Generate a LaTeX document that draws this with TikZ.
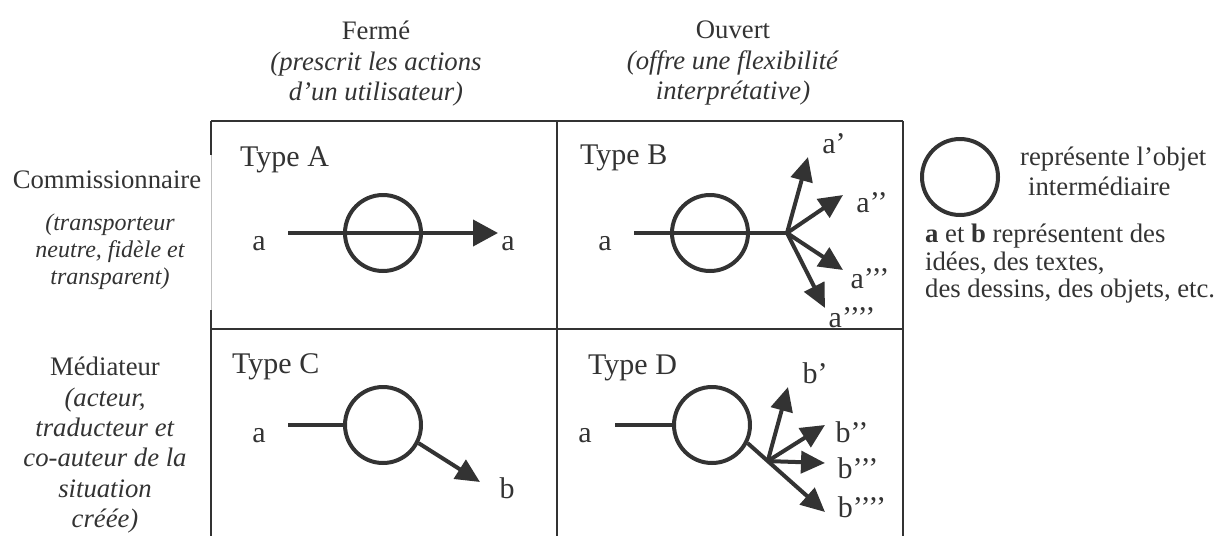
\documentclass[tikz,border=0pt]{standalone}
\usepackage{fontspec}
\setmainfont{Liberation Serif}
\usetikzlibrary{arrows.meta, calc}
\definecolor{ink}{HTML}{333333}

\tikzset{
  txt/.style={inner sep=0pt, text=ink, font=\fontsize{26.7}{30.4}\selectfont},
  lbl/.style={inner sep=0pt, text=ink, font=\fontsize{30}{34}\selectfont},
  gridline/.style={draw=ink, line width=2.5pt},
  io/.style={circle, draw=ink, line width=4pt, minimum size=76pt, inner sep=0pt},
  flow/.style={draw=ink, line width=4pt},
  arr/.style={flow, -{Triangle[length=24pt, width=22pt]}},
}

\begin{document}
\begin{tikzpicture}[x=1pt, y=-1pt]
  \useasboundingbox (0,0) rectangle (1216,536);

  % column heads
  \node[txt, anchor=north, align=center] (closed) at (376,21)
    {Fermé\\\textit{(prescrit les actions}\\\textit{d’un utilisateur)}};
  \node[txt, anchor=north, align=center] (open) at (733,21)
    {Ouvert\\\textit{(offre une flexibilité}\\\textit{interprétative)}};

  % row heads
  \node[txt, anchor=base] (carrier) at (107,188) {Commissionnaire};
  \node[txt, font=\itshape\fontsize{24}{27}\selectfont, anchor=north, align=center] (carrier note) at (110,214)
    {(transporteur\\neutre, fidèle et\\transparent)};
  \node[txt, anchor=north, align=center] (mediator) at (105,357)
    {Médiateur\\\textit{(acteur,}\\\textit{traducteur et}\\\textit{co-auteur de la}\\\textit{situation}\\\textit{créée)}};

  % grid
  \draw[gridline] (211,121) -- (903,121);
  \draw[gridline] (211,329) -- (903,329);
  \draw[gridline] (557,121) -- (557,536);
  \draw[gridline] (903,121) -- (903,536);
  \draw[gridline] (211,121) -- (211,155);
  \draw[gridline] (211,310) -- (211,536);
  \draw[draw=black!25, line width=1pt] (211,155) -- (211,310);

  % Type A
  \node[lbl, anchor=base west] (typeA) at (240,166) {Type A};
  \node[io] (cA) at (383,233) {};
  \coordinate (sA) at (288,233);
  \coordinate (tA) at (498,233);
  \draw[flow, -{Triangle[length=25pt, width=26pt]}] (sA) -- (tA);
  \node[lbl, anchor=base] (inA) at (259,250) {a};
  \node[lbl, anchor=base] (outA) at (508,250) {a};

  % Type B
  \node[lbl, anchor=base west] (typeB) at (580,164) {Type B};
  \node[io] (cB) at (710,233) {};
  \coordinate (sB) at (634,233);
  \coordinate (kB) at (787,233);
  \coordinate (tB1) at (808,157);
  \coordinate (tB2) at (843,195);
  \coordinate (tB3) at (843,270);
  \coordinate (tB4) at (825,308);
  \draw[flow] (sB) -- (kB);
  \foreach \i in {1,...,4}
    \draw[arr] (kB) -- (tB\i);
  \node[lbl, anchor=base] (inB) at (605,250) {a};
  \node[lbl, anchor=base] (outB1) at (834,153) {a’};
  \node[lbl, anchor=base] (outB2) at (872,212) {a’’};
  \node[lbl, anchor=base] (outB3) at (870,288) {a’’’};
  \node[lbl, anchor=base] (outB4) at (852,327) {a’’’’};

  % Type C
  \node[lbl, anchor=base west] (typeC) at (232,373) {Type C};
  \node[io] (cC) at (383,425) {};
  \coordinate (sC) at (288,425);
  \coordinate (tC) at (480,482);
  \draw[flow] (sC) -- (cC.west);
  \draw[arr] (cC.-27) -- (tC);
  \node[lbl, anchor=base] (inC) at (259,442) {a};
  \node[lbl, anchor=base] (outC) at (507,498) {b};

  % Type D
  \node[lbl, anchor=base west] (typeD) at (588,374) {Type D};
  \node[io] (cD) at (712,425) {};
  \coordinate (sD) at (615,425);
  \coordinate (tD4) at (825,512);
  \coordinate (kD) at ($(cD.-27)!0.26!(tD4)$);
  \coordinate (tD1) at (788,387);
  \coordinate (tD2) at (825,425);
  \coordinate (tD3) at (825,463);
  \draw[flow] (sD) -- (cD.west);
  \draw[arr] (cD.-27) -- (tD4);
  \foreach \i in {1,...,3}
    \draw[arr] (kD) -- (tD\i);
  \node[lbl, anchor=base] (inD) at (585,442) {a};
  \node[lbl, anchor=base] (outD1) at (815,383) {b’};
  \node[lbl, anchor=base] (outD2) at (852,442) {b’’};
  \node[lbl, anchor=base] (outD3) at (858,478) {b’’’};
  \node[lbl, anchor=base] (outD4) at (862,517) {b’’’’};

  % legend
  \node[io] (key) at (960,177) {};
  \node[txt, anchor=base west] (keytext) at (1020,165) {représente l’objet};
  \node[txt, anchor=base west] (keytext2) at (1028,195) {intermédiaire};
  \node[txt, font=\fontsize{26.7}{27.5}\selectfont, anchor=north west, align=left] (keynote) at (925,224)
    {\textbf{a} et \textbf{b} représentent des\\idées, des textes,\\des dessins, des objets, etc.};
\end{tikzpicture}
\end{document}
